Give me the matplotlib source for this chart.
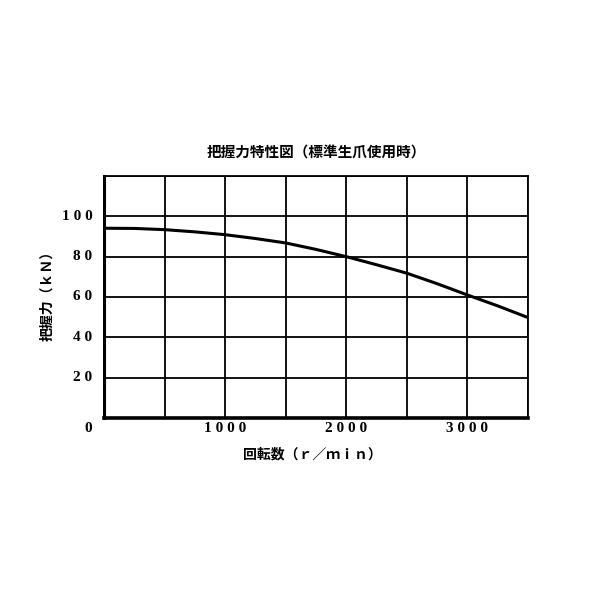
import numpy as np
import matplotlib
matplotlib.use("Agg")
import matplotlib.pyplot as plt

# grip force curve
rpm = [0, 250, 500, 750, 1000, 1250, 1500, 1750, 2000, 2250, 2500, 2750, 3000, 3250, 3500]
force = [94.1, 94.0, 93.4, 92.3, 90.9, 89.0, 86.8, 83.6, 80.0, 76.0, 71.8, 66.6, 61.0, 55.6, 49.8]

x_ticks = [1000, 2000, 3000]
y_ticks = [20, 40, 60, 80, 100]

jp = ["Noto Sans CJK JP", "DejaVu Sans"]
num_font = "Liberation Serif"

def spaced(v):
    return " ".join(str(v))

fig = plt.figure(figsize=(6, 6), dpi=100)
ax = fig.add_axes([104/600, 1 - 418/600, 424/600, 242/600])

ax.plot(rpm, force, color="black", lw=2.2, zorder=3)

ax.set_xlim(0, 3500)
ax.set_ylim(0, 120)
ax.set_xticks(np.arange(0, 3501, 500))
ax.set_yticks(np.arange(0, 121, 20))
ax.grid(True, color="black", lw=1.3)
ax.tick_params(length=0, labelbottom=False, labelleft=False)
for s in ax.spines.values():
    s.set_linewidth(1.3)
ax.spines["left"].set_linewidth(2.2)
ax.spines["bottom"].set_linewidth(2.6)

for v in x_ticks:
    ax.text(v, -2.2, spaced(v), ha="center", va="top", fontsize=11,
            fontweight="bold", family=num_font)
for v in y_ticks:
    ax.text(-95, v, spaced(v), ha="right", va="center", fontsize=11,
            fontweight="bold", family=num_font)
ax.text(-132, -2.2, "0", ha="center", va="top", fontsize=11,
        fontweight="bold", family=num_font)

ax.set_title("把握力特性図（標準生爪使用時）", family=jp, fontsize=10.5,
             fontweight="bold", pad=13)
ax.text(-470, 62.5, "把握力（ｋＮ）", rotation=90, ha="center", va="center",
        family=jp, fontsize=10, fontweight="bold")
ax.text(1720, -18.3, "回転数（ｒ／ｍｉｎ）", ha="center", va="center",
        family=jp, fontsize=10, fontweight="bold")

fig.savefig("out.png", dpi=100)
